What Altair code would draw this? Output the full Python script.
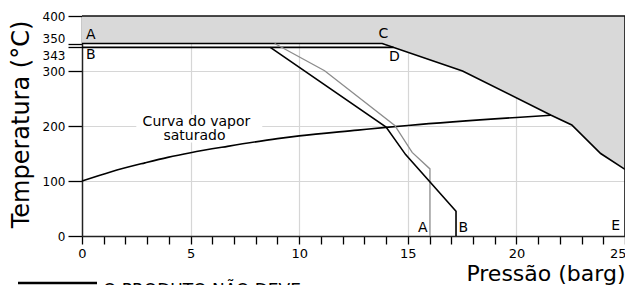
import altair as alt
import pandas as pd

# ---- data ----
# limit boundary (A-C-E) : pressure (barg), temperature (°C)
lim_p = [0, 13.82, 17.52, 21.6, 22.55, 23.88, 25]
lim_t = [350, 350, 300, 219.5, 202, 150, 121]
lim_top = [400, 400, 400, 400, 400, 400, 400]
# line B-D at 343 °C
bd_p = [0, 14.34]
bd_t = [343, 343]
# saturated steam curve
sat_p = [0, 1.35, 2.9, 3.95, 5, 6.7, 9, 10, 12.7, 14, 15, 20, 21.6]
sat_t = [100, 117, 133, 143, 151.5, 163, 177, 182, 192.5, 197.5, 201, 215.5, 219.5]
# product curve (gray, ends at A)
ga_p = [8.87, 11.17, 14.4, 15.2, 16.02, 16.02]
ga_t = [350, 300.5, 201, 152, 122, 0]
# product curve (black, ends at B)
bk_p = [8.67, 14.0, 14.9, 17.22, 17.22]
bk_t = [343, 198, 148, 45, 0]
# plot frame (top and right edges)
frame_p = [0, 25, 25]
frame_t = [400, 400, 0]
# point letters
let_txt = ["A", "B", "C", "D", "A", "B", "E"]
let_p = [0.41, 0.41, 13.88, 14.38, 15.69, 17.55, 24.57]
let_t = [365.5, 329, 367, 326, 14, 14, 18]
# curve label and its white backing box
lab_txt = ["Curva do vapor", "saturado"]
lab_p = [5.27, 5.18]
lab_t = [208, 181]
box_p = [2.5]
box_p2 = [8.3]
box_t = [170]
box_t2 = [221]
# axes
x_ticks = list(range(0, 26))
y_ticks = [0, 100, 200, 300, 343, 350, 400]
legend_text = ["O PRODUTO NÃO DEVE"]

FONT = "DejaVu Sans"
W = 543
H = 220


def xenc():
    return alt.X(
        "p:Q",
        scale=alt.Scale(domain=[0, 25], nice=False, zero=False),
        axis=alt.Axis(
            values=x_ticks,
            labelExpr="datum.value % 5 == 0 ? datum.label : ''",
            title="Pressão (barg)",
            titleFont=FONT,
            titleFontSize=22,
            titleFontWeight="normal",
            titleColor="black",
            titleX=W,
            titleY=37,
            titleAlign="right",
            titleBaseline="middle",
            labelFont=FONT,
            labelFontSize=13,
            labelColor="black",
            labelPadding=3,
            labelFlush=False,
            labelOverlap=False,
            labelAlign={
                "condition": {"test": "datum.value == 25", "value": "right"},
                "value": "center",
            },
            labelOffset={
                "condition": {"test": "datum.value == 25", "value": 1},
                "value": 0,
            },
            tickSize=8,
            tickColor="black",
            tickWidth=1.3,
            domainColor="#222",
            domainWidth=1.5,
            grid=True,
            gridColor="#d6d6d6",
            gridWidth=1.2,
            gridOpacity={
                "condition": {
                    "test": "datum.value % 5 == 0 && datum.value > 0 && datum.value < 25",
                    "value": 1,
                },
                "value": 0,
            },
        ),
    )


def yenc():
    return alt.Y(
        "t:Q",
        stack=None,
        scale=alt.Scale(domain=[0, 400], nice=False, zero=False),
        axis=alt.Axis(
            values=y_ticks,
            title="Temperatura (°C)",
            titleFont=FONT,
            titleFontSize=24,
            titleFontWeight="normal",
            titleColor="black",
            titleX=-61,
            titleY=108,
            titleAngle=270,
            titleAlign="center",
            titleBaseline="middle",
            labelFont=FONT,
            labelFontSize=12,
            labelColor="black",
            labelPadding=3,
            labelFlush=False,
            labelOverlap=False,
            labelOffset={
                "condition": [
                    {"test": "datum.value == 350", "value": -5},
                    {"test": "datum.value == 343", "value": 8},
                ],
                "value": 0,
            },
            tickSize=14,
            tickColor="black",
            tickWidth=1.3,
            domainColor="#222",
            domainWidth=1.5,
            grid=True,
            gridColor="#d6d6d6",
            gridWidth=1.2,
            gridOpacity={
                "condition": {
                    "test": "datum.value == 100 || datum.value == 200 || datum.value == 300",
                    "value": 1,
                },
                "value": 0,
            },
        ),
    )


lim_df = pd.DataFrame({"p": lim_p, "t": lim_t, "top": lim_top, "i": range(len(lim_p))})
bd_df = pd.DataFrame({"p": bd_p, "t": bd_t, "i": range(len(bd_p))})
sat_df = pd.DataFrame({"p": sat_p, "t": sat_t, "i": range(len(sat_p))})
ga_df = pd.DataFrame({"p": ga_p, "t": ga_t, "i": range(len(ga_p))})
bk_df = pd.DataFrame({"p": bk_p, "t": bk_t, "i": range(len(bk_p))})
fr_df = pd.DataFrame({"p": frame_p, "t": frame_t, "i": range(len(frame_p))})
let_df = pd.DataFrame({"p": let_p, "t": let_t, "txt": let_txt})
lab_df = pd.DataFrame({"p": lab_p, "t": lab_t, "txt": lab_txt})
box_df = pd.DataFrame({"p": box_p, "p2": box_p2, "t": box_t, "t2": box_t2})
leg_df = pd.DataFrame({"txt": legend_text})

area = alt.Chart(lim_df).mark_area(color="#d9d9d9", opacity=1, line=False).encode(
    x=xenc(), y=yenc(), y2="top:Q"
)

box = alt.Chart(box_df).mark_rect(color="white").encode(
    x=xenc(), x2="p2:Q", y=yenc(), y2="t2:Q"
)


def line(df, color, width, interp="linear"):
    return alt.Chart(df).mark_line(
        color=color, strokeWidth=width, interpolate=interp
    ).encode(x=xenc(), y=yenc(), order="i:Q")


sat = line(sat_df, "black", 1.6, "monotone")
lim = line(lim_df, "black", 1.6)
bd = line(bd_df, "black", 1.6)
ga = line(ga_df, "#8c8c8c", 1.3)
bk = line(bk_df, "black", 1.6)
frame = line(fr_df, "#111", 1.6)

letters = alt.Chart(let_df).mark_text(
    font=FONT, fontSize=14, color="black", align="center", baseline="middle"
).encode(x=xenc(), y=yenc(), text="txt:N")

label = alt.Chart(lab_df).mark_text(
    font=FONT, fontSize=14, color="black", align="center", baseline="middle"
).encode(x=xenc(), y=yenc(), text="txt:N")

leg_rule = alt.Chart(leg_df).mark_rule(color="black", strokeWidth=2.5).encode(
    x=alt.value(-64), x2=alt.value(15), y=alt.value(267)
)
leg_text = alt.Chart(leg_df).mark_text(
    font=FONT, fontSize=17, color="black", align="left", baseline="alphabetic"
).encode(x=alt.value(21), y=alt.value(280), text="txt:N")

chart = alt.layer(
    area, box, sat, lim, bd, ga, bk, frame, letters, label, leg_rule, leg_text
).properties(
    width=W,
    height=H,
    autosize=alt.AutoSizeParams(type="none"),
    padding={"left": 74, "top": 8, "right": 0, "bottom": 60},
).configure_view(stroke="#111", strokeWidth=1.5).configure(background="white")

chart.save("out.html", embed_options={"renderer": "svg", "actions": False})
